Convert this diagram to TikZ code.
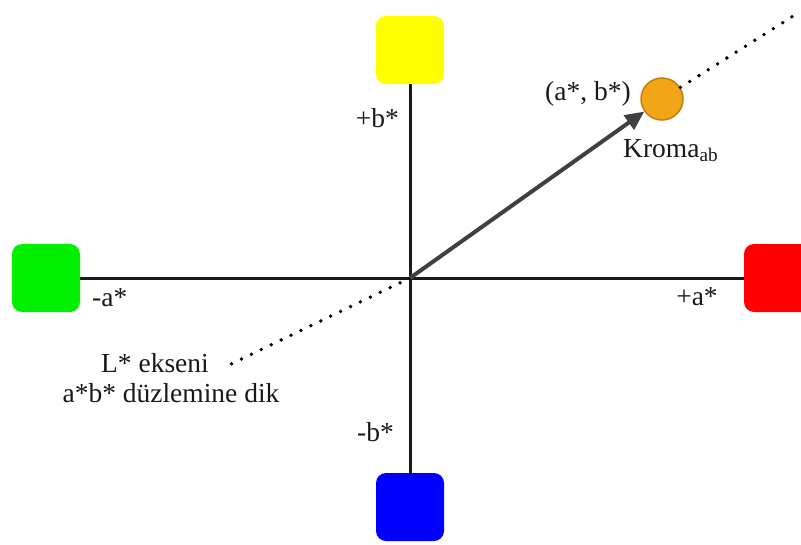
\documentclass[tikz,border=0pt]{standalone}
\usepackage{fontspec}
\setmainfont{Liberation Serif}
\usetikzlibrary{arrows.meta}
\definecolor{sqyellow}{HTML}{FFFF00}
\definecolor{sqgreen}{HTML}{00F000}
\definecolor{sqred}{HTML}{FF0000}
\definecolor{sqblue}{HTML}{0000FF}
\definecolor{dotfill}{HTML}{F2A516}
\definecolor{dotedge}{HTML}{C47E0E}
\definecolor{arrgray}{HTML}{404040}
\tikzset{
  sqbox/.style={rectangle, rounded corners=10pt, minimum size=68pt, inner sep=0pt, draw=none},
  axisline/.style={line width=3pt, black!90},
  dotline/.style={line width=3.8pt, line cap=round, dash pattern=on 0pt off 11pt, black},
  vecarrow/.style={line width=4pt, arrgray, -{Triangle[length=19pt,width=17pt]}},
  lbl/.style={inner sep=0pt, font=\fontsize{27.5}{32}\selectfont, text=black!90}
}
\begin{document}
\begin{tikzpicture}[x=1pt,y=-1pt]
\useasboundingbox (0,0) rectangle (801,544);
\node[sqbox, fill=sqyellow] (Y) at (410,50) {};
\node[sqbox, fill=sqblue] (B) at (410,507) {};
\node[sqbox, fill=sqgreen] (G) at (46,278) {};
\node[sqbox, fill=sqred] (R) at (778,278) {};
\coordinate (O) at (410,278);
\draw[axisline] (Y.south) -- (B.north);
\draw[axisline] (G.east) -- (R.west);
\node[circle, minimum size=42pt, inner sep=0pt, fill=dotfill, draw=dotedge, line width=1.5pt] (C) at (662,99) {};
\coordinate (L1) at (227,366);
\coordinate (L2) at (798,13);
\draw[dotline] (O) -- (L1);
\draw[dotline] (C) -- (L2);
\draw[vecarrow] (O) -- (C);
\node[lbl, anchor=east] (pb) at (399,118) {+b*};
\node[lbl, anchor=west] (ma) at (92,298) {-a*};
\node[lbl] (pa) at (697,297) {+a*};
\node[lbl, anchor=east] (mb) at (394,432) {-b*};
\node[lbl] (ab) at (588,94) {(a*, b*)};
\node[lbl, anchor=base west] (kr) at (623,157) {Kroma\textsubscript{ab}};
\node[lbl] (le) at (155,363) {L* ekseni};
\node[lbl] (dz) at (171,393) {a*b* düzlemine dik};
\end{tikzpicture}
\end{document}
